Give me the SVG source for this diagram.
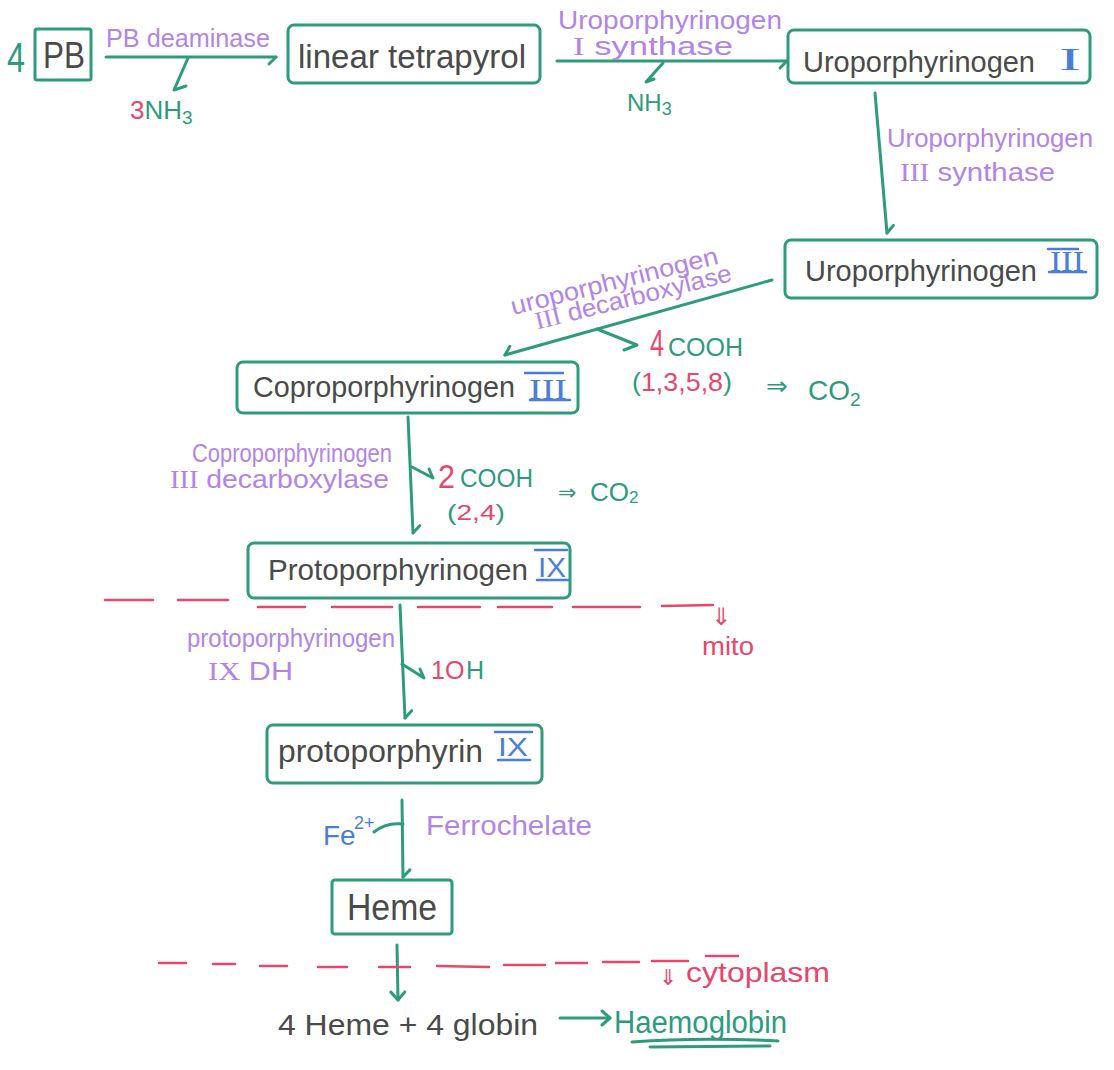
<svg xmlns="http://www.w3.org/2000/svg" width="1114" height="1070" viewBox="0 0 1114 1070">
<style>
text{font-family:"Liberation Sans",Arial,sans-serif}
.box{fill:none;stroke:#2e9b7d;stroke-width:3;stroke-linejoin:round}
.ln{fill:none;stroke:#2e9b7d;stroke-width:3;stroke-linecap:round;stroke-linejoin:round}
.bar{fill:none;stroke:#4a7fd9;stroke-width:2.5;stroke-linecap:round}
.dash{fill:none;stroke:#e8476b;stroke-width:2.5;stroke-linecap:round}
.blk{fill:#4a4a4a}
.pur{fill:#b384e8}
.grn{fill:#2e9b7d}
.red{fill:#e8476b}
.blu{fill:#4a7fd9}
.rom{font-family:"Liberation Serif","Times New Roman",serif}
.sym{font-family:"DejaVu Sans",sans-serif}
</style>
<defs>
<marker id="bp" markerUnits="userSpaceOnUse" viewBox="-12 -12 24 24" markerWidth="24" markerHeight="24" refX="0" refY="0" orient="auto"><path d="M0,0 L-7,7" fill="none" stroke="#2e9b7d" stroke-width="3" stroke-linecap="round"/></marker>
<marker id="bn" markerUnits="userSpaceOnUse" viewBox="-12 -12 24 24" markerWidth="24" markerHeight="24" refX="0" refY="0" orient="auto"><path d="M0,0 L-7,-7" fill="none" stroke="#2e9b7d" stroke-width="3" stroke-linecap="round"/></marker>
<marker id="bv" markerUnits="userSpaceOnUse" viewBox="-12 -12 24 24" markerWidth="24" markerHeight="24" refX="0" refY="0" orient="auto"><path d="M-8,-7 L0,0 L-8,7" fill="none" stroke="#2e9b7d" stroke-width="3" stroke-linecap="round" stroke-linejoin="round"/></marker>
</defs>

<g id="connectors">
<line class="ln" x1="106" y1="57" x2="276" y2="57" marker-end="url(#bp)"/>
<path class="ln" d="M188,58 L174,90 L186,86"/>
<line class="ln" x1="557" y1="61" x2="787" y2="61" marker-end="url(#bp)"/>
<path class="ln" d="M663,63 L646,82 L654,79"/>
<line class="ln" x1="875" y1="93" x2="887" y2="233" marker-end="url(#bn)"/>
<line class="ln" x1="772" y1="280" x2="505" y2="355" marker-end="url(#bp)"/>
<path class="ln" d="M597,329 L637,345 L624,350"/>
<line class="ln" x1="408" y1="417" x2="413" y2="533" marker-end="url(#bn)"/>
<path class="ln" d="M412,467 L433,478 L429,469"/>
<line class="ln" x1="400" y1="605" x2="405" y2="718" marker-end="url(#bn)"/>
<path class="ln" d="M402,664 L424,678 L420,669"/>
<line class="ln" x1="402" y1="800" x2="403" y2="877" marker-end="url(#bn)"/>
<path class="ln" d="M374,832 Q386,822 403,824"/>
<line class="ln" x1="397" y1="945" x2="398" y2="1000" marker-end="url(#bv)"/>
<line class="ln" x1="560" y1="1018" x2="610" y2="1018" marker-end="url(#bv)"/>
</g>

<g id="n-pb">
<text class="grn" x="7" y="72" font-size="42" textLength="18" lengthAdjust="spacingAndGlyphs">4</text>
<rect class="box" x="35" y="29" width="56" height="51" rx="2"/>
<text class="blk" x="43" y="68" font-size="36" textLength="42" lengthAdjust="spacingAndGlyphs">PB</text>
</g>

<g id="l-deaminase">
<text class="pur" x="106" y="47" font-size="26" textLength="164" lengthAdjust="spacingAndGlyphs">PB deaminase</text>
<text x="130" y="119" font-size="26"><tspan class="red">3</tspan><tspan class="grn">NH</tspan><tspan class="grn" font-size="19" dy="5">3</tspan></text>
</g>

<g id="n-linear">
<rect class="box" x="288" y="25" width="252" height="58" rx="6"/>
<text class="blk" x="298" y="68" font-size="33" textLength="228" lengthAdjust="spacingAndGlyphs">linear tetrapyrol</text>
</g>

<g id="l-uro1-synthase">
<text class="pur" x="558" y="29" font-size="25" textLength="224" lengthAdjust="spacingAndGlyphs">Uroporphyrinogen</text>
<text class="pur" x="573" y="55" font-size="25" textLength="160" lengthAdjust="spacingAndGlyphs"><tspan class="rom">I</tspan> synthase</text>
<text x="627" y="111" font-size="24"><tspan class="grn">NH</tspan><tspan class="grn" font-size="18" dy="4">3</tspan></text>
</g>

<g id="n-uro1">
<rect class="box" x="788" y="30" width="302" height="53" rx="6"/>
<text class="blk" x="803" y="72" font-size="30" textLength="232" lengthAdjust="spacingAndGlyphs">Uroporphyrinogen</text>
<text class="blu rom" x="1059" y="70" font-size="32" textLength="22" lengthAdjust="spacingAndGlyphs">I</text>
</g>

<g id="l-uro3-synthase">
<text class="pur" x="887" y="147" font-size="25" textLength="206" lengthAdjust="spacingAndGlyphs">Uroporphyrinogen</text>
<text class="pur" x="900" y="181" font-size="25" textLength="155" lengthAdjust="spacingAndGlyphs"><tspan class="rom">III</tspan>  synthase</text>
</g>

<g id="n-uro3">
<rect class="box" x="785" y="240" width="312" height="58" rx="6"/>
<text class="blk" x="805" y="281" font-size="29" textLength="232" lengthAdjust="spacingAndGlyphs">Uroporphyrinogen</text>
<text class="blu rom" x="1050" y="271" font-size="30" textLength="34" lengthAdjust="spacingAndGlyphs">III</text>
<path class="bar" d="M1048,249 L1078,249 M1049,272 L1086,272"/>
</g>

<g id="l-uro-decarboxylase">
<g transform="translate(513,315) rotate(-14)">
<text class="pur" x="0" y="0" font-size="25" textLength="213" lengthAdjust="spacingAndGlyphs">uroporphyrinogen</text>
<text class="pur" x="20" y="20" font-size="25" textLength="202" lengthAdjust="spacingAndGlyphs"><tspan class="rom">III</tspan> decarboxylase</text>
</g>
<text x="650" y="356" font-size="36" class="red" textLength="14" lengthAdjust="spacingAndGlyphs">4</text>
<text class="grn" x="668" y="356" font-size="26" textLength="75" lengthAdjust="spacingAndGlyphs">COOH</text>
<text x="632" y="391" font-size="26" textLength="100" lengthAdjust="spacingAndGlyphs"><tspan class="grn">(</tspan><tspan class="red">1,3,5,8</tspan><tspan class="grn">)</tspan></text>
<text class="grn sym" x="766" y="395" font-size="26">⇒</text>
<text x="808" y="400" font-size="28"><tspan class="grn">CO</tspan><tspan class="grn" font-size="19" dy="6">2</tspan></text>
</g>

<g id="n-copro3">
<rect class="box" x="237" y="362" width="341" height="51" rx="6"/>
<text class="blk" x="253" y="397" font-size="30" textLength="262" lengthAdjust="spacingAndGlyphs">Coproporphyrinogen</text>
<text class="blu rom" x="529" y="399" font-size="30" textLength="38" lengthAdjust="spacingAndGlyphs">III</text>
<path class="bar" d="M525,373 L563,373 M530,400 L570,400"/>
</g>

<g id="l-copro-decarboxylase">
<text class="pur" x="192" y="462" font-size="25" textLength="200" lengthAdjust="spacingAndGlyphs">Coproporphyrinogen</text>
<text class="pur" x="170" y="488" font-size="25" textLength="219" lengthAdjust="spacingAndGlyphs"><tspan class="rom">III</tspan> decarboxylase</text>
<text class="red" x="438" y="488" font-size="34" textLength="17" lengthAdjust="spacingAndGlyphs">2</text>
<text class="grn" x="460" y="487" font-size="26" textLength="73" lengthAdjust="spacingAndGlyphs">COOH</text>
<text x="447" y="520" font-size="22" textLength="58" lengthAdjust="spacingAndGlyphs"><tspan class="grn">(</tspan><tspan class="red">2,4</tspan><tspan class="grn">)</tspan></text>
<text class="grn sym" x="558" y="500" font-size="22">⇒</text>
<text x="590" y="501" font-size="26"><tspan class="grn">CO</tspan><tspan class="grn" font-size="17" dy="2">2</tspan></text>
</g>

<g id="n-proto9">
<rect class="box" x="248" y="543" width="322" height="55" rx="6"/>
<text class="blk" x="268" y="580" font-size="30" textLength="260" lengthAdjust="spacingAndGlyphs">Protoporphyrinogen</text>
<text class="blu" x="538" y="577" font-size="27" textLength="28" lengthAdjust="spacingAndGlyphs">IX</text>
<path class="bar" d="M535,550 L567,550 M537,580 L568,580"/>
</g>

<g id="mito-boundary">
<path class="dash" d="M105,600 L153,600 M178,600 L228,600 M258,607 L305,607 M332,607 L392,607 M418,607 L480,607 M498,607 L552,607 M573,607 L640,607 M662,606 L713,605"/>
<text class="red sym" x="711" y="625" font-size="24">⇓</text>
<text class="red" x="702" y="655" font-size="25" textLength="52" lengthAdjust="spacingAndGlyphs">mito</text>
</g>

<g id="l-proto-dh">
<text class="pur" x="187" y="647" font-size="25" textLength="208" lengthAdjust="spacingAndGlyphs">protoporphyrinogen</text>
<text class="pur" x="208" y="680" font-size="25" textLength="85" lengthAdjust="spacingAndGlyphs"><tspan class="rom">IX</tspan> DH</text>
<text class="red" x="431" y="679" font-size="25">1O</text>
<text class="grn" x="466" y="679" font-size="25">H</text>
</g>

<g id="n-protop9">
<rect class="box" x="267" y="725" width="275" height="58" rx="6"/>
<text class="blk" x="278" y="762" font-size="32" textLength="205" lengthAdjust="spacingAndGlyphs">protoporphyrin</text>
<text class="blu" x="498" y="756" font-size="26" textLength="30" lengthAdjust="spacingAndGlyphs">IX</text>
<path class="bar" d="M495,732 L532,732 M498,760 L530,760"/>
</g>

<g id="l-ferrochelate">
<text x="323" y="845" font-size="28"><tspan class="blu">Fe</tspan></text>
<text class="blu" x="354" y="829" font-size="18">2+</text>
<text class="pur" x="426" y="835" font-size="27" textLength="166" lengthAdjust="spacingAndGlyphs">Ferrochelate</text>
</g>

<g id="n-heme">
<rect class="box" x="332" y="880" width="120" height="54" rx="3"/>
<text class="blk" x="347" y="920" font-size="36" textLength="90" lengthAdjust="spacingAndGlyphs">Heme</text>
</g>

<g id="cytoplasm-boundary">
<path class="dash" d="M159,963 L186,963 M213,964 L235,964 M260,966 L287,966 M318,967 L347,967 M379,967 L410,967 M437,966 L489,967 M504,965 L545,965 M556,963 L587,963 M603,962 L639,962 M652,961 L688,961 M706,956 L738,956"/>
<text class="red sym" x="659" y="985" font-size="22">⇓</text>
<text class="red" x="686" y="982" font-size="28" textLength="144" lengthAdjust="spacingAndGlyphs">cytoplasm</text>
</g>

<g id="n-haemoglobin">
<text class="blk" x="278" y="1035" font-size="30" textLength="260" lengthAdjust="spacingAndGlyphs">4 Heme + 4 globin</text>
<text class="grn" x="614" y="1033" font-size="31" textLength="173" lengthAdjust="spacingAndGlyphs">Haemoglobin</text>
<path class="ln" d="M632,1042 Q700,1037 778,1041 M650,1047 L770,1046" stroke-width="2.5"/>
</g>
</svg>
